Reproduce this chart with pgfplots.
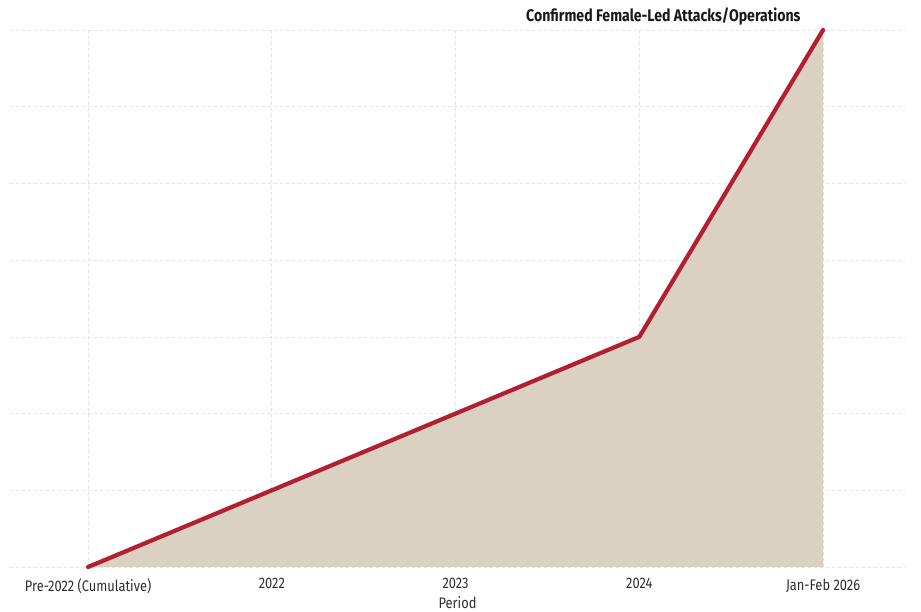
\documentclass[border=0pt]{standalone}
\usepackage{pgfplots}
\pgfplotsset{compat=1.18}
\usepackage{fontspec}
\setmainfont[FakeStretch=0.84]{Fira Sans}

\definecolor{lineRed}{RGB}{178,32,48}
\definecolor{areaTan}{RGB}{216,206,190}
\definecolor{gridGray}{RGB}{226,226,226}

\pgfplotstableread{
idx value
0 0
1 1
2 2
3 3
4 7
}\femaleled

\begin{document}
\begin{tikzpicture}[x=1pt,y=1pt]
\useasboundingbox (0,0) rectangle (921,612);
\begin{axis}[
  at={(10pt,45pt)}, anchor=south west,
  scale only axis,
  width=895pt, height=537pt,
  xmin=-0.425, xmax=4.446,
  ymin=0, ymax=7,
  axis x line=bottom, axis y line=left,
  x axis line style={draw=none}, y axis line style={draw=none},
  xtick={0,1,2,3,4},
  xticklabels={Pre-2022 (Cumulative),2022,2023,2024,Jan-Feb 2026},
  xticklabel style={font=\fontsize{15.3}{17}\selectfont, text=black!82, yshift=-8pt},
  major tick length=0pt,
  ytick={0,1,...,7},
  yticklabels={},
  grid=major,
  major grid style={gridGray, dash pattern=on 3pt off 3pt, line width=0.7pt},
  xlabel={Period},
  xlabel style={font=\fontsize{15.3}{17}\selectfont, text=black!82, yshift=4pt},
  clip=false,
]
% shaded area under the running total
\addplot[draw=none, fill=areaTan, fill opacity=0.93] table[x=idx,y=value]{\femaleled} \closedcycle;
% running total line
\addplot[lineRed, line width=4.2pt, line join=round, line cap=round] table[x=idx,y=value]{\femaleled};
\node[font=\bfseries\fontsize{16.8}{19}\selectfont, text=black!90, anchor=base east] at (axis cs:4,7) [xshift=-19pt, yshift=8pt] {Confirmed Female-Led Attacks/Operations};
\end{axis}
\end{tikzpicture}
\end{document}
